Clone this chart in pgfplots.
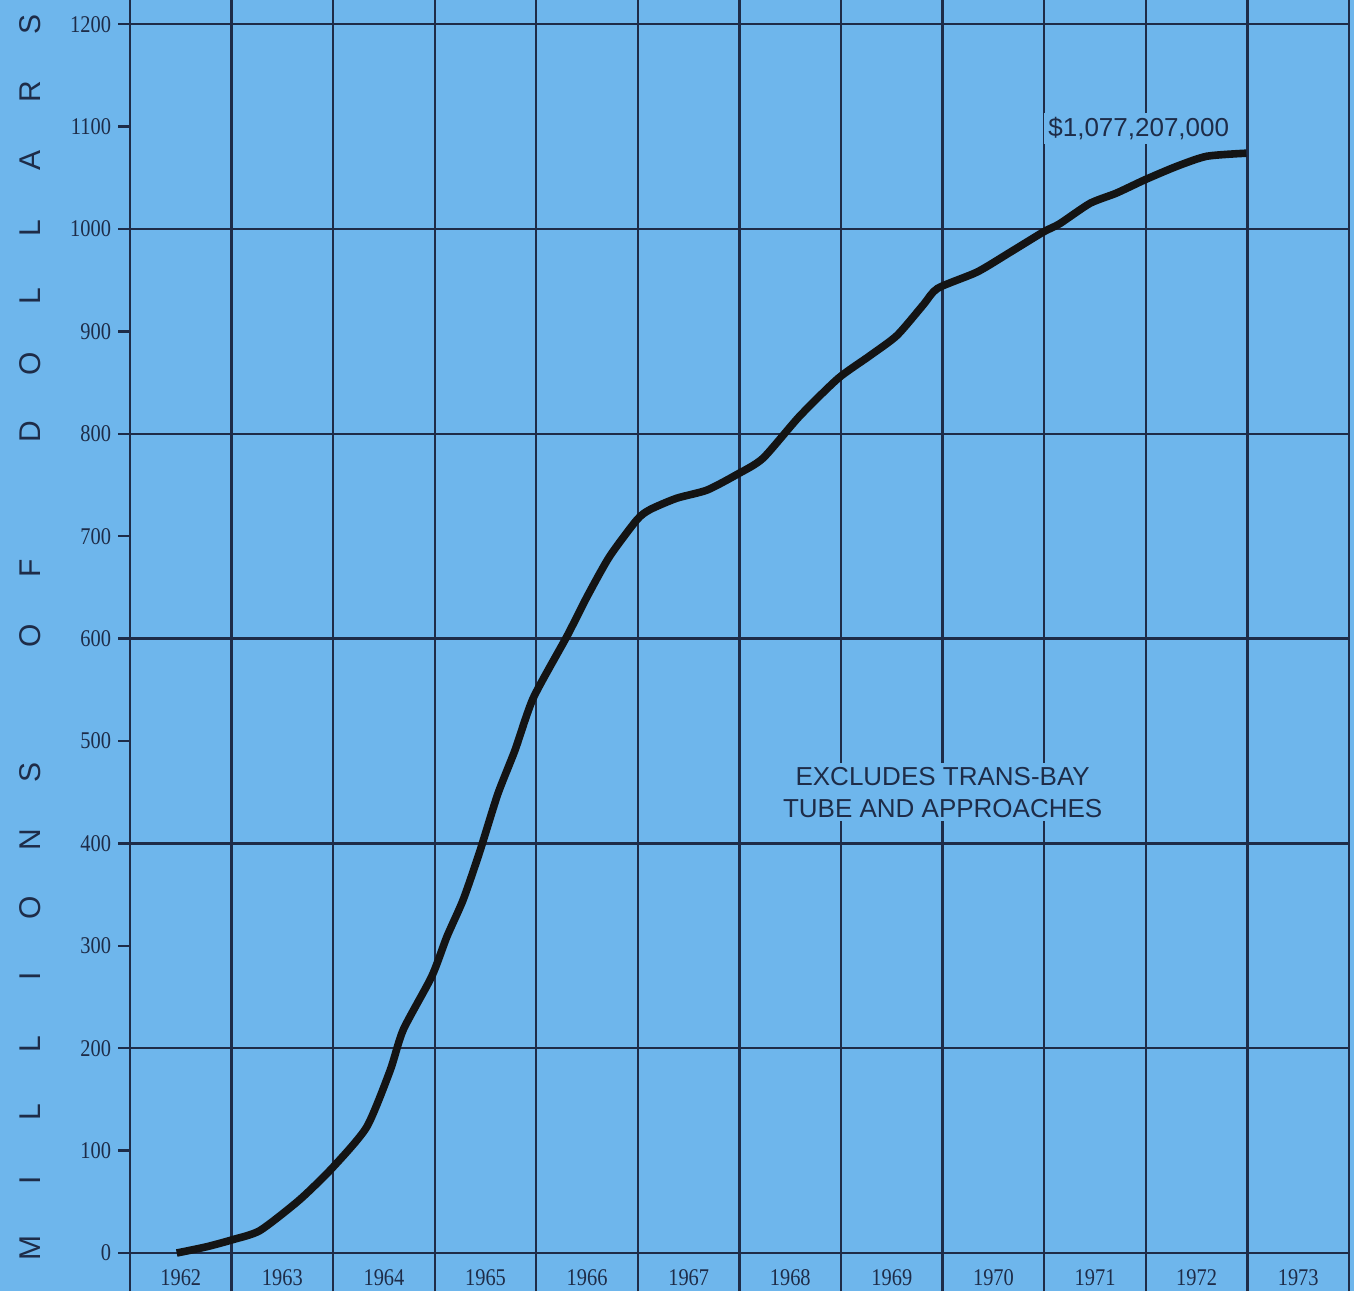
\documentclass[border=0pt]{standalone}
\usepackage{pgfplots}
\pgfplotsset{compat=1.18}
\usepackage{fontspec}
\newfontfamily\sansf{Liberation Sans}
\newfontfamily\tickf[FakeStretch=0.85]{Liberation Serif}
\usetikzlibrary{backgrounds}
\definecolor{bgblue}{HTML}{6EB6EC}
\definecolor{gridcol}{HTML}{1E2C48}
\definecolor{txtcol}{HTML}{1E2C48}
\newcommand\lt[1]{\makebox[34pt]{#1}}
\begin{document}
\begin{tikzpicture}
\begin{axis}[
 scale only axis, width=609.5pt, height=645.5pt,
 xmin=1962, xmax=1974, ymin=-37.1, ymax=1223.6,
 axis line style={draw=none},
 xtick={1962,...,1974}, xticklabels={},
 x tick style={draw=none},
 xmajorgrids, ymajorgrids,
 grid style={gridcol, line width=1.2pt},
 ytick={0,200,...,1200},
 extra y ticks={100,300,...,1100},
 extra y tick style={grid=none},
 tick align=outside, ytick pos=left,
 y tick style={gridcol, line width=1.2pt},
 major tick length=6pt,
 yticklabel style={font=\tickf\fontsize{12}{12}\selectfont, text=txtcol},
 /pgf/number format/1000 sep={},
 /pgf/number format/assume math mode=true,
 extra x ticks={1962.5,1963.5,1964.5,1965.5,1966.5,1967.5,1968.5,1969.5,1970.5,1971.5,1972.5,1973.5},
 extra x tick labels={1962,1963,1964,1965,1966,1967,1968,1969,1970,1971,1972,1973},
 extra x tick style={grid=none, major tick length=0pt, xticklabel style={anchor=center, yshift=6.5pt}},
 xticklabel style={font=\tickf\fontsize{12}{12}\selectfont, text=txtcol},
 clip=false,
]
\addplot[black!92, line width=3.8pt, smooth, tension=0.4] coordinates {
(1962.46,0) (1962.75,6) (1963.01,13) (1963.28,22) (1963.67,52) (1964.00,84)
(1964.33,123) (1964.56,178) (1964.69,218) (1964.97,270) (1965.12,309)
(1965.28,345) (1965.44,391) (1965.62,448) (1965.79,491) (1965.97,542)
(1966.30,602) (1966.50,641) (1966.72,680) (1966.99,716) (1967.12,726)
(1967.38,737) (1967.68,745) (1967.97,760) (1968.23,776) (1968.59,817)
(1968.97,854) (1969.28,876) (1969.55,896) (1969.81,926) (1969.95,942)
(1970.34,958) (1970.66,977) (1970.99,997) (1971.15,1005) (1971.45,1025)
(1971.71,1035) (1971.99,1048) (1972.30,1061) (1972.60,1071) (1972.99,1074)
};
\node[fill=bgblue, text=txtcol, font=\sansf\fontsize{13}{13}\selectfont, inner sep=2pt] at (axis cs:1971.93,1098) {\$1,077,207,000};
\node[fill=bgblue, text=txtcol, align=center, font=\sansf\fontsize{13}{16}\selectfont, inner sep=2pt] at (axis cs:1970.0,450) {EXCLUDES TRANS-BAY\\TUBE AND APPROACHES};
\coordinate (SW) at (rel axis cs:0,0);
\coordinate (NE) at (rel axis cs:1,1);
\end{axis}
\node[rotate=90, text=txtcol, font=\sansf\fontsize{15}{15}\selectfont, inner sep=0pt] at ([xshift=-50pt,yshift=327.5pt]SW)
 {\lt{M}\lt{I}\lt{L}\lt{L}\lt{I}\lt{O}\lt{N}\lt{S}\lt{}\lt{O}\lt{F}\lt{}\lt{D}\lt{O}\lt{L}\lt{L}\lt{A}\lt{R}\lt{S}};
\begin{scope}[on background layer]
\fill[bgblue] ([xshift=-65pt]SW) rectangle ([xshift=2.5pt]NE);
\end{scope}
\pgfresetboundingbox
\path[use as bounding box] ([xshift=-65pt]SW) rectangle ([xshift=2.5pt]NE);
\end{tikzpicture}
\end{document}
